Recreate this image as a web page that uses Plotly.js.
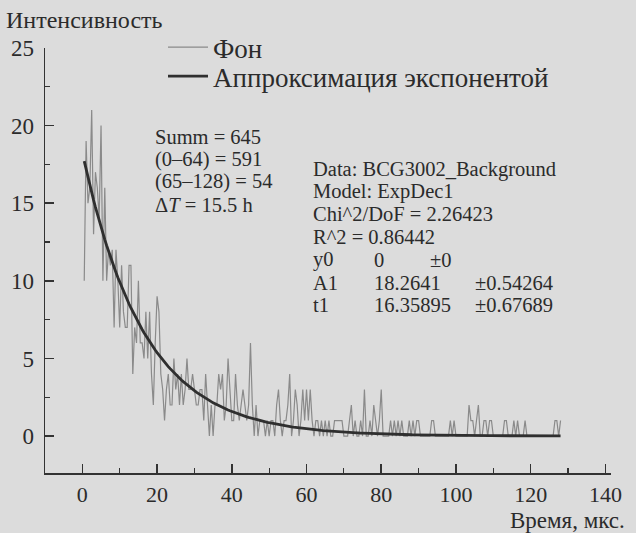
<!DOCTYPE html>
<html>
<head>
<meta charset="utf-8">
<script src="https://cdn.plot.ly/plotly-3.0.1.min.js"></script>
<style>
  html, body { margin: 0; padding: 0; background: #dcdcdc; }
  #chart { width: 636px; height: 533px; }
</style>
</head>
<body>
<div id="chart"></div>
<script>
// Sample step of the background histogram (µs); first sample at 0.5 µs
const STEP = 0.5;

// "Фон" — background counts, one value per 0.5 µs bin (0.5 … 128 µs)
const background = [
  10,19,15,16,21,13,17,16,14,20,
  10,16,10,12,11,12,7,12,10,7,
  11,8,7,7,11,11,4,7,6,10,
  6,6,5,8,5,8,4,2,6,9,
  8,4,3,1,3,4,2,2,5,3,
  4,2,4,2,3,5,3,3,4,3,
  2,2,3,3,1,4,2,0,2,0,
  2,2,4,3,4,1,2,5,3,1,
  1,4,2,1,2,3,2,1,2,6,
  2,0,2,0,1,1,1,0,1,0,
  1,1,0,2,3,1,0,1,1,2,
  4,0,1,3,2,0,1,3,1,3,
  1,3,1,0,1,1,0,1,0,1,
  0,1,0,0,1,1,1,1,1,0,
  0,0,1,2,0,1,0,0,1,0,
  3,0,0,1,0,2,1,0,1,3,
  0,0,0,0,1,0,1,0,1,0,
  1,0,0,0,1,0,1,0,1,1,
  0,0,0,0,0,0,1,1,0,0,
  0,0,0,0,0,0,1,0,1,0,
  0,0,0,0,0,0,2,1,1,0,
  1,2,0,0,1,1,0,1,1,0,
  0,0,0,0,0,1,1,0,0,0,
  1,0,1,0,0,0,1,0,0,0,
  0,0,0,0,0,0,0,0,0,0,
  0,0,1,1,0,1
];

// Fit parameters printed on the chart (Model: ExpDec1, y = y0 + A1*exp(-x/t1))
const fitY0 = 0;
const fitA1 = 18.2641;
const fitT1 = 16.35895;

const seriesNames = ['Фон', 'Аппроксимация экспонентой'];
const xTickVals = [0, 20, 40, 60, 80, 100, 120, 140];
const yTickVals = [0, 5, 10, 15, 20, 25];

const statsLines = ['Summ = 645', '(0–64) = 591', '(65–128) = 54', 'Δ<i>T</i> = 15.5 h'];
const fitLabels = ['Data: BCG3002_Background', 'Model: ExpDec1', 'Chi^2/DoF = 2.26423', 'R^2 = 0.86442'];
const paramNames = ['y0', 'A1', 't1'];
const paramValues = ['0', '18.2641', '16.35895'];
const paramErrors = ['±0', '±0.54264', '±0.67689'];

const time = background.map((_, i) => (i + 1) * STEP);
const fitCurve = time.map(t => fitY0 + fitA1 * Math.exp(-t / fitT1));

const FONT = 'Liberation Serif, Times New Roman, DejaVu Serif, serif';
const INK = '#2b2b2b';
const BG = '#dcdcdc';
const ANN = 20.5;
const LINE = 22.7;

const traces = [
  {
    x: time, y: background, type: 'scatter', mode: 'lines', name: seriesNames[0],
    line: { color: '#8a8a8a', width: 1.2 }, legend: 'legend'
  },
  {
    x: time, y: fitCurve, type: 'scatter', mode: 'lines', name: seriesNames[1],
    line: { color: '#2f2f2f', width: 2.8 }, legend: 'legend2'
  }
];

const py = v => 1 - (v - 48) / 425;   // pixel row -> paper y
const px = v => (v - 45) / 566;       // pixel column -> paper x

const annotations = [];
statsLines.forEach((s, i) => {
  annotations.push({ xref: 'paper', yref: 'paper', x: px(153), y: py(136.5 + i * LINE),
    xanchor: 'left', yanchor: 'middle', text: s, showarrow: false, font: { family: FONT, size: ANN, color: INK } });
});
fitLabels.forEach((s, i) => {
  annotations.push({ xref: 'paper', yref: 'paper', x: px(311), y: py(169 + i * LINE),
    xanchor: 'left', yanchor: 'middle', text: s, showarrow: false, font: { family: FONT, size: ANN, color: INK } });
});
const errX = [428, 473, 473];
paramNames.forEach((s, i) => {
  const yy = py(169 + (i + 4) * LINE);
  [[311, s], [372, paramValues[i]], [errX[i], paramErrors[i]]].forEach(([cx, txt]) => {
    annotations.push({ xref: 'paper', yref: 'paper', x: px(cx), y: yy,
      xanchor: 'left', yanchor: 'middle', text: txt, showarrow: false, font: { family: FONT, size: ANN, color: INK } });
  });
});
// x-axis title, right aligned as in the original
annotations.push({ xref: 'paper', yref: 'paper', x: px(627), y: py(520),
  xanchor: 'right', yanchor: 'middle', text: 'Время, мкс.', showarrow: false,
  font: { family: FONT, size: 23, color: INK } });
// y-axis title, placed above the axis as in the original
annotations.push({ xref: 'paper', yref: 'paper', x: px(4), y: py(20),
  xanchor: 'left', yanchor: 'middle', text: 'Интенсивность', showarrow: false,
  font: { family: FONT, size: 24, color: INK } });

const legendCommon = {
  xanchor: 'left', yanchor: 'middle', bgcolor: 'rgba(0,0,0,0)',
  font: { family: FONT, size: 27, color: INK }, itemwidth: 40
};

const layout = {
  width: 636, height: 533,
  paper_bgcolor: BG, plot_bgcolor: BG,
  margin: { l: 45, r: 25, t: 48, b: 60, pad: 0 },
  font: { family: FONT, color: INK, size: 21 },
  showlegend: true,
  legend: Object.assign({ x: px(163), y: py(47.5) }, legendCommon),
  legend2: Object.assign({ x: px(163), y: py(76.5) }, legendCommon),
  xaxis: {
    range: [-10, 141.5], showgrid: false, zeroline: false,
    showline: true, linecolor: '#333', linewidth: 1.5,
    ticks: 'inside', ticklen: 9, tickwidth: 1.5, tickcolor: '#333',
    tickvals: xTickVals, ticktext: xTickVals.map(String),
    tickfont: { family: FONT, size: 22, color: INK },
    ticklabelstandoff: 1,
    minor: { ticks: 'inside', ticklen: 5, tickwidth: 1.2, tickcolor: '#333', dtick: 10, tick0: 0 }
  },
  yaxis: {
    range: [-2.38, 25], showgrid: false, zeroline: false,
    showline: true, linecolor: '#333', linewidth: 1.5,
    ticks: 'inside', ticklen: 9, tickwidth: 1.5, tickcolor: '#333',
    tickvals: yTickVals, ticktext: yTickVals.map(String),
    tickfont: { family: FONT, size: 23, color: INK },
    ticklabelstandoff: 5,
    minor: { ticks: 'inside', ticklen: 5, tickwidth: 1.2, tickcolor: '#333', dtick: 2.5, tick0: 0 }
  },
  annotations: annotations
};

Plotly.newPlot('chart', traces, layout, { displayModeBar: false, staticPlot: true });
</script>
</body>
</html>
